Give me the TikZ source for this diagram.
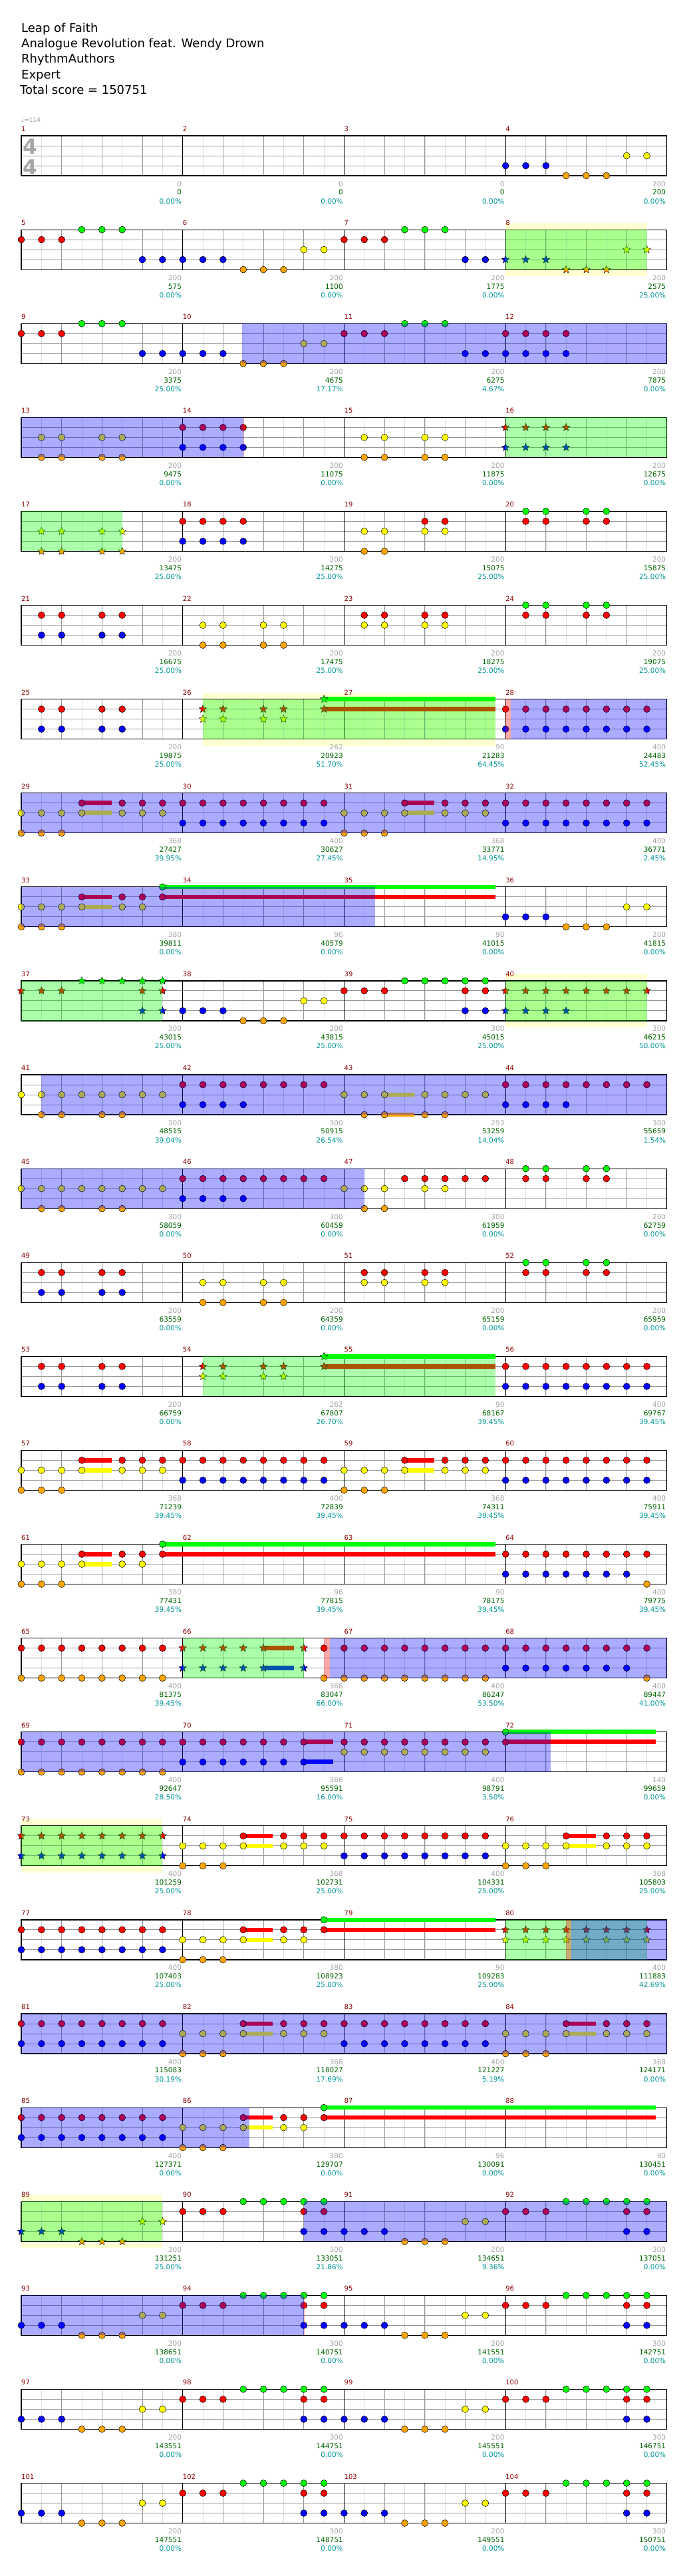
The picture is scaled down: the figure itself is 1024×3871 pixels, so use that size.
\documentclass[tikz,border=0pt]{standalone}
\usepackage{fontspec}
\setmainfont{DejaVu Sans}
\usepackage{tikz}
\usetikzlibrary{shapes.geometric}

\definecolor{lane0}{RGB}{0,255,0}
\definecolor{lane1}{RGB}{255,0,0}
\definecolor{lane2}{RGB}{255,255,0}
\definecolor{lane3}{RGB}{0,0,255}
\definecolor{lane4}{RGB}{255,165,0}
\definecolor{barred}{RGB}{139,0,0}
\definecolor{gaptext}{RGB}{165,165,165}
\definecolor{scoretext}{RGB}{0,100,0}
\definecolor{pcttext}{RGB}{0,150,150}
\definecolor{sololight}{RGB}{255,255,210}

\tikzstyle{note} = [circle, draw=black, line width=0.5pt, minimum size=10pt, inner sep=0pt]
\tikzstyle{gem} = [star, star points=5, star point ratio=2.2, draw=black, line width=0.4pt,
minimum size=12pt, inner sep=0pt]
\tikzstyle{tail} = [line width=6.5pt]
\tikzstyle{subline} = [draw=black!13, line width=0.6pt]
\tikzstyle{beatline} = [draw=black!40, line width=0.8pt]
\tikzstyle{laneline} = [draw=black!40, line width=1pt]
\tikzstyle{barline} = [draw=black, line width=0.8pt]
\tikzstyle{frame} = [draw=black, line width=1.2pt]
\tikzstyle{mnum} = [anchor=base west, inner sep=0pt, text=barred, font=\fontsize{10}{12}\selectfont]
\tikzstyle{gapnum} = [anchor=base east, inner sep=0pt, text=gaptext, font=\fontsize{10.5}{12}\selectfont]
\tikzstyle{scorenum} = [anchor=base east, inner sep=0pt, text=scoretext, font=\fontsize{10.5}{12}\selectfont]
\tikzstyle{pctnum} = [anchor=base east, inner sep=0pt, text=pcttext, font=\fontsize{10.5}{12}\selectfont]
\tikzstyle{head} = [anchor=base west, inner sep=0pt, font=\fontsize{18}{22}\selectfont]
\tikzstyle{timesig} = [inner sep=0pt, text=black!35, font=\fontsize{31}{31}\selectfont\bfseries]
\tikzstyle{tempo} = [anchor=base west, inner sep=0pt, text=black!40, font=\fontsize{9}{10}\selectfont]
\tikzstyle{spfill} = [fill=lane3, fill opacity=0.33]
\tikzstyle{phrasefill} = [fill=lane0, fill opacity=0.33]
\tikzstyle{markfill} = [fill=lane1, fill opacity=0.33]
\tikzstyle{solofill} = [fill=sololight]

\newcommand{\notes}[2]{\foreach \i in {#2} \node[note, fill=lane#1] at (\i,#1) {};}
\newcommand{\gems}[2]{\foreach \i in {#2} \node[gem, fill=lane#1] at (\i,#1) {};}
\newcommand{\sustain}[3]{\draw[tail, draw=lane#1] (#2,#1) -- (#3,#1);}
\newcommand{\spzone}[2]{\path[spfill] (#1,0) rectangle (#2,4);}
\newcommand{\phrase}[2]{\path[phrasefill] (#1,0) rectangle (#2,4);}
\newcommand{\spmark}[2]{\path[markfill] (#1,0) rectangle (#2,4);}
\newcommand{\solo}[2]{\path[solofill] (#1,-0.67) rectangle (#2,4.67);}
\newcommand{\staff}[2]{%
  \foreach \i in {1,...,31} \draw[subline] (\i,0) -- (\i,4);
  \foreach \i in {2,4,...,30} \draw[beatline] (\i,0) -- (\i,4);
  \foreach \j in {1,2,3} \draw[laneline] (0,\j) -- (32,\j);
  \foreach \i in {8,16,24} \draw[barline] (\i,0) -- (\i,4);
  \draw[frame] (0,0) rectangle (32,4);
  \foreach \g/\s/\p [count=\c from 0] in {#2} {
    \pgfmathtruncatemacro\mn{#1+\c}
    \node[mnum] at (8*\c,-0.43) {\mn};
    \node[gapnum] at (8*\c+7.95,5.07) {\g};
    \node[scorenum] at (8*\c+7.95,5.93) {\s};
    \node[pctnum] at (8*\c+7.95,6.8) {\p\%};
  }}

% repeated figures
\newcommand{\patquad}{%
  \notes{1}{1,2,4,5,17,18,20,21,25,26,28,29}
  \notes{3}{1,2,4,5}
  \notes{2}{9,10,12,13,17,18,20,21}
  \notes{4}{9,10,12,13}
  \notes{0}{25,26,28,29}}
\newcommand{\patdrive}{%
  \sustain{1}{3}{4.48} \sustain{1}{19}{20.48}
  \sustain{2}{3}{4.48} \sustain{2}{19}{20.48}
  \notes{2}{0,1,2,3,5,6,7,16,17,18,19,21,22,23}
  \notes{1}{3,5,6,7,8,9,10,11,12,13,14,15,19,21,22,23,24,25,26,27,28,29,30,31}
  \notes{4}{0,1,2,16,17,18}
  \notes{3}{8,9,10,11,12,13,14,15,24,25,26,27,28,29,30,31}}
\newcommand{\patoutro}{%
  \notes{3}{0,1,2,14,15,16,17,18,30,31}
  \notes{4}{3,4,5,19,20,21}
  \notes{2}{6,7,22,23}
  \notes{1}{8,9,10,14,15,24,25,26,30,31}
  \notes{0}{11,12,13,14,15,27,28,29,30,31}}

\begin{document}
\begin{tikzpicture}[x=30.34pt, y=-15pt]
\path[fill=white, use as bounding box] (0pt,0pt) rectangle (1024pt,-3871pt);

% Header
\node[head] (title) at (32pt,-48.2pt) {Leap of Faith};
\node[head] (artist) at (32pt,-71.5pt) {Analogue Revolution feat. Wendy Drown};
\node[head] (charter) at (32pt,-94.8pt) {RhythmAuthors};
\node[head] (level) at (32pt,-118.2pt) {Expert};
\node[head] (total) at (30pt,-141.5pt) {Total score = 150751};

% Row 1
\begin{scope}[shift={(32pt,-204pt)}]
\staff{1}{0/0/0.00, 0/0/0.00, 0/0/0.00, 200/200/0.00}
\node[tempo] (bpm) at (0,-1.35) {♩=114};
\node[timesig] (tsup) at (0.43,1.1) {4};
\node[timesig] (tsdown) at (0.43,3.13) {4};
\notes{3}{24,25,26}
\notes{4}{27,28,29}
\notes{2}{30,31}
\end{scope}

% Row 2
\begin{scope}[shift={(32pt,-345.1pt)}]
\solo{24}{31}
\staff{5}{200/575/0.00, 200/1100/0.00, 200/1775/0.00, 200/2575/25.00}
\notes{1}{0,1,2,16,17,18}
\notes{0}{3,4,5,19,20,21}
\notes{3}{6,7,8,9,10,22,23}
\notes{4}{11,12,13}
\notes{2}{14,15}
\gems{3}{24,25,26}
\gems{4}{27,28,29}
\gems{2}{30,31}
\phrase{24}{31}
\end{scope}

% Row 3
\begin{scope}[shift={(32pt,-486.2pt)}]
\staff{9}{200/3375/25.00, 200/4675/17.17, 200/6275/4.67, 200/7875/0.00}
\notes{1}{0,1,2,16,17,18,24,25,26,27}
\notes{0}{3,4,5,19,20,21}
\notes{3}{6,7,8,9,10,22,23,24,25,26,27}
\notes{4}{11,12,13}
\notes{2}{14,15}
\spzone{10.95}{32}
\end{scope}

% Row 4
\begin{scope}[shift={(32pt,-627.3pt)}]
\staff{13}{200/9475/0.00, 200/11075/0.00, 200/11875/0.00, 200/12675/0.00}
\notes{2}{1,2,4,5,17,18,20,21}
\notes{4}{1,2,4,5,17,18,20,21}
\notes{1}{8,9,10,11}
\notes{3}{8,9,10,11}
\gems{1}{24,25,26,27}
\gems{3}{24,25,26,27}
\spzone{0}{11}
\spmark{11}{11.05}
\phrase{24}{32}
\end{scope}

% Row 5
\begin{scope}[shift={(32pt,-768.4pt)}]
\staff{17}{200/13475/25.00, 200/14275/25.00, 200/15075/25.00, 200/15875/25.00}
\gems{2}{1,2,4,5}
\gems{4}{1,2,4,5}
\notes{1}{8,9,10,11,20,21,25,26,28,29}
\notes{3}{8,9,10,11}
\notes{2}{17,18,20,21}
\notes{4}{17,18}
\notes{0}{25,26,28,29}
\phrase{0}{5}
\end{scope}

% Row 6
\begin{scope}[shift={(32pt,-909.5pt)}]
\staff{21}{200/16675/25.00, 200/17475/25.00, 200/18275/25.00, 200/19075/25.00}
\patquad
\end{scope}

% Row 7
\begin{scope}[shift={(32pt,-1050.6pt)}]
\solo{9}{23.49}
\staff{25}{200/19875/25.00, 262/20923/51.70, 90/21283/64.45, 400/24483/52.45}
\sustain{0}{15}{23.49}
\sustain{1}{15}{23.49}
\notes{1}{1,2,4,5,24,25,26,27,28,29,30,31}
\notes{3}{1,2,4,5,24,25,26,27,28,29,30,31}
\gems{1}{9,10,12,13,15}
\gems{2}{9,10,12,13}
\gems{0}{15}
\phrase{9}{23.49}
\spmark{24}{24.27}
\spzone{24.27}{32}
\end{scope}

% Row 8
\begin{scope}[shift={(32pt,-1191.7pt)}]
\staff{29}{368/27427/39.95, 400/30627/27.45, 368/33771/14.95, 400/36771/2.45}
\patdrive
\spzone{0}{32}
\end{scope}

% Row 9
\begin{scope}[shift={(32pt,-1332.8pt)}]
\staff{33}{380/39811/0.00, 96/40579/0.00, 90/41015/0.00, 200/41815/0.00}
\sustain{1}{3}{4.48}
\sustain{2}{3}{4.48}
\sustain{0}{7}{23.49}
\sustain{1}{7}{23.49}
\notes{2}{0,1,2,3,5,6,30,31}
\notes{1}{3,5,6,7}
\notes{4}{0,1,2,27,28,29}
\notes{0}{7}
\notes{3}{24,25,26}
\spzone{0}{17.52}
\end{scope}

% Row 10
\begin{scope}[shift={(32pt,-1473.9pt)}]
\solo{24}{31}
\staff{37}{300/43015/25.00, 200/43815/25.00, 300/45015/25.00, 300/46215/50.00}
\gems{0}{3,4,5,6,7}
\gems{1}{0,1,2,6,7,24,25,26,27,28,29,30,31}
\gems{3}{6,7,24,25,26,27}
\notes{3}{8,9,10,22,23}
\notes{4}{11,12,13}
\notes{2}{14,15}
\notes{1}{16,17,18,22,23}
\notes{0}{19,20,21,22,23}
\phrase{0}{7}
\phrase{24}{31}
\end{scope}

% Row 11
\begin{scope}[shift={(32pt,-1615pt)}]
\staff{41}{300/48515/39.04, 300/50915/26.54, 293/53259/14.04, 300/55659/1.54}
\sustain{2}{18}{19.48}
\sustain{4}{18}{19.48}
\notes{2}{0,1,2,3,4,5,6,7,16,17,18,20,21,22,23}
\notes{4}{1,2,4,5,17,18,20,21}
\notes{1}{8,9,10,11,12,13,14,15,24,25,26,27,28,29,30,31}
\notes{3}{8,9,10,11,24,25,26,27}
\spzone{1}{32}
\end{scope}

% Row 12
\begin{scope}[shift={(32pt,-1756.1pt)}]
\staff{45}{300/58059/0.00, 300/60459/0.00, 300/61959/0.00, 200/62759/0.00}
\notes{2}{0,1,2,3,4,5,6,7,16,17,18,20,21}
\notes{4}{1,2,4,5,17,18}
\notes{1}{8,9,10,11,12,13,14,15,19,20,21,22,23,25,26,28,29}
\notes{3}{8,9,10,11}
\notes{0}{25,26,28,29}
\spzone{0}{17}
\end{scope}

% Row 13
\begin{scope}[shift={(32pt,-1897.2pt)}]
\staff{49}{200/63559/0.00, 200/64359/0.00, 200/65159/0.00, 200/65959/0.00}
\patquad
\end{scope}

% Row 14
\begin{scope}[shift={(32pt,-2038.3pt)}]
\staff{53}{200/66759/0.00, 262/67807/26.70, 90/68167/39.45, 400/69767/39.45}
\sustain{0}{15}{23.49}
\sustain{1}{15}{23.49}
\notes{1}{1,2,4,5,24,25,26,27,28,29,30,31}
\notes{3}{1,2,4,5,24,25,26,27,28,29,30,31}
\gems{1}{9,10,12,13,15}
\gems{2}{9,10,12,13}
\gems{0}{15}
\phrase{9}{23.49}
\end{scope}

% Row 15
\begin{scope}[shift={(32pt,-2179.4pt)}]
\staff{57}{368/71239/39.45, 400/72839/39.45, 368/74311/39.45, 400/75911/39.45}
\patdrive
\end{scope}

% Row 16
\begin{scope}[shift={(32pt,-2320.5pt)}]
\staff{61}{380/77431/39.45, 96/77815/39.45, 90/78175/39.45, 400/79775/39.45}
\sustain{1}{3}{4.48}
\sustain{2}{3}{4.48}
\sustain{0}{7}{23.49}
\sustain{1}{7}{23.49}
\notes{2}{0,1,2,3,5,6}
\notes{1}{3,5,6,7,24,25,26,27,28,29,30,31}
\notes{4}{0,1,2,31}
\notes{0}{7}
\notes{3}{24,25,26,27,28,29,30}
\end{scope}

% Row 17
\begin{scope}[shift={(32pt,-2461.6pt)}]
\staff{65}{400/81375/39.45, 368/83047/66.00, 400/86247/53.50, 400/89447/41.00}
\sustain{1}{12}{13.5}
\sustain{3}{12}{13.5}
\notes{1}{0,1,2,3,4,5,6,7,15,16,17,18,19,20,21,22,23,24,25,26,27,28,29,30,31}
\notes{4}{0,1,2,3,4,5,6,7,15,16,17,18,19,20,21,22,23,31}
\notes{3}{24,25,26,27,28,29,30}
\gems{1}{8,9,10,11,12,14}
\gems{3}{8,9,10,11,12,14}
\phrase{8}{14}
\spmark{15}{15.3}
\spzone{15.3}{32}
\end{scope}

% Row 18
\begin{scope}[shift={(32pt,-2602.7pt)}]
\staff{69}{400/92647/28.50, 368/95591/16.00, 400/98791/3.50, 140/99659/0.00}
\sustain{1}{14}{15.45}
\sustain{3}{14}{15.45}
\sustain{0}{24}{31.45}
\sustain{1}{24}{31.45}
\notes{1}{0,1,2,3,4,5,6,7,8,9,10,11,12,13,14,16,17,18,19,20,21,22,23,24}
\notes{4}{0,1,2,3,4,5,6,7}
\notes{3}{8,9,10,11,12,13,14}
\notes{2}{16,17,18,19,20,21,22,23}
\notes{0}{24}
\spzone{0}{26.23}
\end{scope}

% Row 19
\begin{scope}[shift={(32pt,-2743.8pt)}]
\solo{0}{7}
\staff{73}{400/101259/25.00, 368/102731/25.00, 400/104331/25.00, 368/105803/25.00}
\sustain{1}{11}{12.47}
\sustain{2}{11}{12.47}
\sustain{1}{27}{28.47}
\sustain{2}{27}{28.47}
\gems{1}{0,1,2,3,4,5,6,7}
\gems{3}{0,1,2,3,4,5,6,7}
\notes{2}{8,9,10,11,13,14,15,24,25,26,27,29,30,31}
\notes{1}{11,13,14,15,16,17,18,19,20,21,22,23,27,29,30,31}
\notes{4}{8,9,10,24,25,26}
\notes{3}{16,17,18,19,20,21,22,23}
\phrase{0}{7}
\end{scope}

% Row 20
\begin{scope}[shift={(32pt,-2884.9pt)}]
\staff{77}{400/107403/25.00, 380/108923/25.00, 90/109283/25.00, 400/111883/42.69}
\sustain{1}{11}{12.47}
\sustain{2}{11}{12.47}
\sustain{0}{15}{23.49}
\sustain{1}{15}{23.49}
\notes{1}{0,1,2,3,4,5,6,7,11,13,14,15}
\notes{3}{0,1,2,3,4,5,6,7}
\notes{2}{8,9,10,11,13,14}
\notes{4}{8,9,10}
\notes{0}{15}
\gems{1}{24,25,26,27,28,29,30,31}
\gems{2}{24,25,26,27,28,29,30,31}
\phrase{24}{31}
\spmark{27}{27.27}
\spzone{27.27}{32}
\end{scope}

% Row 21
\begin{scope}[shift={(32pt,-3026pt)}]
\staff{81}{400/115083/30.19, 368/118027/17.69, 400/121227/5.19, 368/124171/0.00}
\sustain{1}{11}{12.47}
\sustain{2}{11}{12.47}
\sustain{1}{27}{28.47}
\sustain{2}{27}{28.47}
\notes{1}{0,1,2,3,4,5,6,7,11,13,14,15,16,17,18,19,20,21,22,23,27,29,30,31}
\notes{3}{0,1,2,3,4,5,6,7,16,17,18,19,20,21,22,23}
\notes{2}{8,9,10,11,13,14,15,24,25,26,27,29,30,31}
\notes{4}{8,9,10,24,25,26}
\spzone{0}{32}
\end{scope}

% Row 22
\begin{scope}[shift={(32pt,-3167.1pt)}]
\staff{85}{400/127371/0.00, 380/129707/0.00, 96/130091/0.00, 90/130451/0.00}
\sustain{1}{11}{12.47}
\sustain{2}{11}{12.47}
\sustain{0}{15}{31.45}
\sustain{1}{15}{31.45}
\notes{1}{0,1,2,3,4,5,6,7,11,13,14,15}
\notes{3}{0,1,2,3,4,5,6,7}
\notes{2}{8,9,10,11,13,14}
\notes{4}{8,9,10}
\notes{0}{15}
\spzone{0}{11.3}
\end{scope}

% Row 23
\begin{scope}[shift={(32pt,-3308.2pt)}]
\solo{0}{7}
\staff{89}{200/131251/25.00, 300/133051/21.86, 200/134651/9.36, 300/137051/0.00}
\gems{3}{0,1,2}
\gems{4}{3,4,5}
\gems{2}{6,7}
\notes{1}{8,9,10,14,15,24,25,26,30,31}
\notes{0}{11,12,13,14,15,27,28,29,30,31}
\notes{3}{14,15,16,17,18,30,31}
\notes{4}{19,20,21}
\notes{2}{22,23}
\phrase{0}{7}
\spzone{14}{32}
\end{scope}

% Row 24
\begin{scope}[shift={(32pt,-3449.3pt)}]
\staff{93}{200/138651/0.00, 300/140751/0.00, 200/141551/0.00, 300/142751/0.00}
\patoutro
\spzone{0}{14}
\spmark{14}{14.05}
\end{scope}

% Row 25
\begin{scope}[shift={(32pt,-3590.4pt)}]
\staff{97}{200/143551/0.00, 300/144751/0.00, 200/145551/0.00, 300/146751/0.00}
\patoutro
\end{scope}

% Row 26
\begin{scope}[shift={(32pt,-3731.5pt)}]
\staff{101}{200/147551/0.00, 300/148751/0.00, 200/149551/0.00, 300/150751/0.00}
\patoutro
\end{scope}
\end{tikzpicture}
\end{document}
